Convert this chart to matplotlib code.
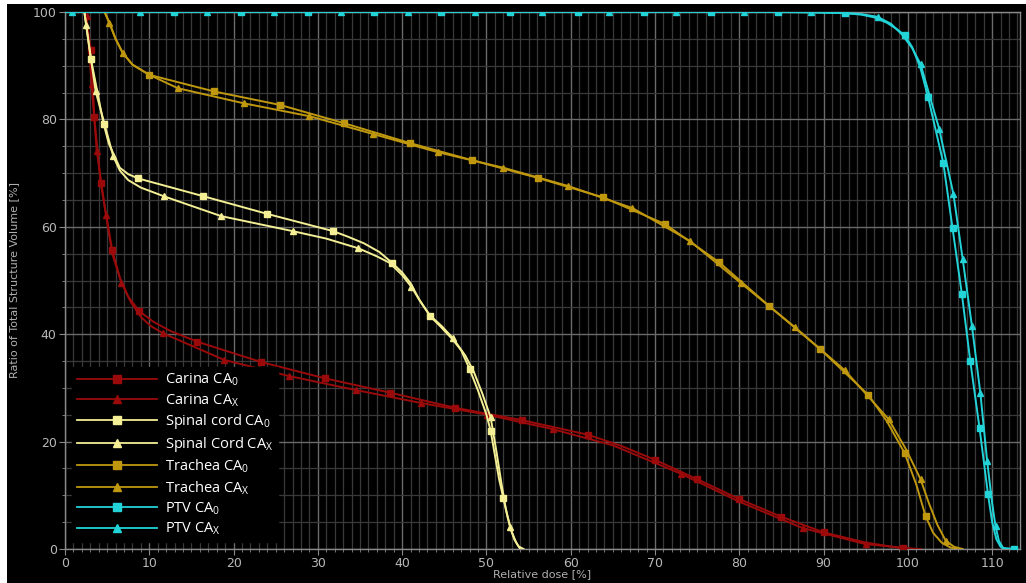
import matplotlib
matplotlib.use("Agg")
import matplotlib.pyplot as plt
from matplotlib.lines import Line2D
from matplotlib.patches import Rectangle
from matplotlib.ticker import MultipleLocator

# ---------------- data ----------------
carina0_dose = [2.4, 3.08, 3.48, 4.23, 5.6, 6.5, 7.5, 8.8, 10.5, 12.5, 15.7, 23.3, 30.8, 38.6, 46.3,
                54.2, 62.0, 66.0, 70.0, 75.0, 80.0, 85.0, 90.0, 95.0, 99.4, 101.5]
carina0_vol = [100.0, 92.9, 80.4, 68.1, 55.7, 50.5, 47.0, 44.3, 42.3, 40.6, 38.6, 34.8, 31.8, 29.1, 26.3,
               24.0, 21.3, 19.2, 16.6, 13.0, 9.3, 6.0, 3.1, 1.2, 0.1, 0.0]
carina0_marks = [1, 2, 3, 4, 7, 10, 11, 12, 13, 14, 15, 16, 18, 19, 20, 21, 22, 24]

carinax_dose = [2.3, 2.57, 3.16, 3.76, 4.86, 5.6, 6.7, 7.8, 9.0, 10.2, 11.6, 18.9, 26.6, 34.5, 42.2,
                50.1, 57.9, 65.0, 73.1, 80.0, 87.5, 95.0, 101.0]
carinax_vol = [100.0, 99.3, 86.5, 74.2, 62.2, 55.0, 49.6, 46.0, 43.2, 41.5, 40.2, 35.2, 32.2, 29.6, 27.2,
               25.0, 22.3, 19.3, 14.0, 8.8, 3.9, 0.9, 0.0]
carinax_marks = [1, 2, 3, 4, 6, 10, 11, 12, 13, 14, 15, 16, 18, 20, 21]

spinal0_dose = [2.3, 3.08, 4.59, 5.2, 6.5, 7.5, 8.7, 16.4, 24.0, 31.8, 33.5, 35.5, 37.3, 38.8, 40.0,
                41.0, 42.0, 43.3, 44.5, 46.0, 47.0, 48.0, 49.0, 50.0, 50.5, 51.0, 51.5, 52.0, 52.5,
                53.0, 53.5, 54.0]
spinal0_vol = [100.0, 91.2, 79.1, 75.5, 71.0, 69.8, 69.0, 65.7, 62.4, 59.2, 58.2, 56.9, 55.3, 53.3, 51.5,
               49.5, 46.5, 43.4, 41.5, 39.0, 37.0, 33.5, 29.5, 25.0, 22.0, 17.5, 13.0, 9.5, 6.0,
               3.2, 1.3, 0.0]
spinal0_marks = [1, 2, 6, 7, 8, 9, 13, 17, 21, 24, 27]

spinalx_dose = [2.3, 2.5, 3.64, 5.73, 6.5, 7.5, 9.0, 11.7, 18.5, 27.0, 31.0, 34.8, 37.0, 38.5, 40.0,
                41.1, 42.2, 43.3, 44.7, 46.0, 47.5, 48.5, 49.5, 50.5, 51.2, 51.8, 52.3, 52.8, 53.3,
                53.8, 54.4]
spinalx_vol = [100.0, 97.6, 85.2, 73.1, 70.5, 68.7, 67.3, 65.7, 62.0, 59.2, 57.8, 56.0, 54.5, 53.3, 51.0,
               48.8, 46.0, 43.5, 41.5, 39.3, 36.0, 33.0, 29.0, 24.5, 18.0, 12.0, 7.5, 4.1, 1.8,
               0.5, 0.0]
spinalx_marks = [1, 2, 3, 7, 8, 9, 11, 15, 19, 23, 27]

trachea0_dose = [4.7, 5.26, 6.0, 6.84, 8.0, 10.0, 17.7, 25.5, 33.1, 40.9, 48.3, 56.1, 63.8, 71.2, 77.6,
                 83.5, 89.6, 95.3, 97.5, 99.6, 101.0, 102.1, 103.0, 104.0, 105.0, 105.8]
trachea0_vol = [100.0, 98.0, 95.0, 92.4, 90.2, 88.3, 85.2, 82.7, 79.3, 75.6, 72.4, 69.1, 65.5, 60.5, 53.4,
                45.3, 37.2, 28.7, 23.8, 17.9, 12.0, 6.1, 3.0, 1.2, 0.3, 0.0]
trachea0_marks = [5, 6, 7, 8, 9, 10, 11, 12, 13, 14, 15, 16, 17, 19, 21]

tracheax_dose = [4.7, 5.26, 6.0, 6.84, 8.0, 10.0, 13.4, 21.2, 29.0, 36.5, 44.2, 52.0, 59.7, 67.3, 74.1,
                 80.2, 86.6, 92.5, 97.7, 99.8, 101.5, 102.5, 103.5, 104.5, 105.5, 106.5]
tracheax_vol = [100.0, 98.0, 95.0, 92.4, 90.2, 88.3, 85.8, 83.0, 80.6, 77.3, 73.9, 71.0, 67.6, 63.5, 57.4,
                49.5, 41.3, 33.3, 24.2, 18.5, 13.0, 8.5, 4.5, 1.5, 0.4, 0.0]
tracheax_marks = [1, 3, 6, 7, 8, 9, 10, 11, 12, 13, 14, 15, 16, 17, 18, 20, 23]

ptv0_dose = [0.0, 4.9, 12.9, 20.9, 28.8, 36.7, 44.6, 52.8, 60.9, 68.7, 76.6, 84.6, 92.5, 94.5, 96.0,
             97.5, 98.7, 99.6, 100.5, 101.5, 102.4, 104.2, 105.3, 106.4, 107.4, 108.5, 109.5,
             110.0, 110.5, 111.0, 111.5, 112.6]
ptv0_vol = [100.0, 100.0, 100.0, 100.0, 100.0, 100.0, 100.0, 100.0, 100.0, 100.0, 100.0, 100.0, 99.8,
            99.5, 99.0, 98.0, 96.8, 95.7, 93.5, 89.5, 84.1, 71.9, 59.7, 47.5, 35.0, 22.5, 10.2,
            5.0, 1.8, 0.4, 0.0, 0.0]
ptv0_marks = [2, 3, 4, 5, 6, 7, 8, 9, 10, 11, 12, 17, 20, 21, 22, 23, 24, 25, 26, 31]

ptvx_dose = [0.0, 0.8, 8.9, 16.8, 24.8, 32.7, 40.7, 48.6, 56.6, 64.5, 72.5, 80.5, 88.5, 92.5, 94.5,
             96.4, 98.0, 99.3, 100.5, 101.5, 103.7, 105.4, 106.5, 107.6, 108.6, 109.4, 110.0,
             110.4, 110.8, 111.3, 112.6]
ptvx_vol = [100.0, 100.0, 100.0, 100.0, 100.0, 100.0, 100.0, 100.0, 100.0, 100.0, 100.0, 100.0, 100.0,
            99.8, 99.6, 99.1, 97.8, 95.8, 93.3, 90.3, 78.3, 66.1, 54.0, 41.5, 29.0, 16.4, 8.5,
            4.2, 1.5, 0.2, 0.0]
ptvx_marks = [1, 2, 3, 4, 5, 6, 7, 8, 9, 10, 11, 12, 15, 19, 20, 21, 22, 23, 24, 25, 27]

labels = ["Carina CA$_\\mathregular{0}$", "Carina CA$_\\mathregular{X}$",
          "Spinal cord CA$_\\mathregular{0}$", "Spinal Cord CA$_\\mathregular{X}$",
          "Trachea CA$_\\mathregular{0}$", "Trachea CA$_\\mathregular{X}$",
          "PTV CA$_\\mathregular{0}$", "PTV CA$_\\mathregular{X}$"]

x_ticks = list(range(0, 111, 10))
y_ticks = list(range(0, 101, 20))

# ---------------- style ----------------
RED = "#9a0a0a"
YEL = "#f4ef95"
GOLD = "#bf980f"
CYAN = "#22d3d8"

series = [
    (carina0_dose, carina0_vol, carina0_marks, RED, "s"),
    (carinax_dose, carinax_vol, carinax_marks, RED, "^"),
    (spinal0_dose, spinal0_vol, spinal0_marks, YEL, "s"),
    (spinalx_dose, spinalx_vol, spinalx_marks, YEL, "^"),
    (trachea0_dose, trachea0_vol, trachea0_marks, GOLD, "s"),
    (tracheax_dose, tracheax_vol, tracheax_marks, GOLD, "^"),
    (ptv0_dose, ptv0_vol, ptv0_marks, CYAN, "s"),
    (ptvx_dose, ptvx_vol, ptvx_marks, CYAN, "^"),
]

plt.rcParams['font.family'] = ['Open Sans', 'DejaVu Sans']

fig = plt.figure(figsize=(10.26, 5.83), dpi=100, facecolor="black")
# white margins of the screenshot
fig.patches.append(Rectangle((0, 0), 7 / 1026, 1, transform=fig.transFigure,
                             facecolor="white", edgecolor="none", zorder=0))
fig.patches.append(Rectangle((0, 1 - 4 / 583), 1, 4 / 583, transform=fig.transFigure,
                             facecolor="white", edgecolor="none", zorder=0))

ax = fig.add_axes([65 / 1026, 34 / 583, (1020 - 65) / 1026, (549 - 12) / 583])
ax.set_facecolor("black")
ax.set_xlim(0, 113.3)
ax.set_ylim(0, 100)

ax.xaxis.set_minor_locator(MultipleLocator(1))
ax.yaxis.set_minor_locator(MultipleLocator(5))
ax.set_xticks(x_ticks)
ax.set_yticks(y_ticks)

ax.grid(which="minor", color="#3a3a3a", linewidth=0.9)
ax.grid(which="major", color="#6a6a6a", linewidth=1.0)
ax.set_axisbelow(True)

for s in ax.spines.values():
    s.set_color("#8a8a8a")
    s.set_linewidth(1.0)
ax.tick_params(which="major", colors="#b8b8b8", labelsize=9, length=4, pad=2, color="#8a8a8a")
ax.tick_params(which="minor", length=2.5, color="#8a8a8a")
for lab in ax.get_xticklabels() + ax.get_yticklabels():
    lab.set_family(['DejaVu Sans'])

ax.set_xlabel("Relative dose [%]", color="#b0b0b0", fontsize=8, labelpad=-1, family=['DejaVu Sans'])
ax.set_ylabel("Ratio of Total Structure Volume [%]", color="#b0b0b0", fontsize=8, labelpad=10,
              family=['DejaVu Sans'])

handles = []
for (xd, yd, mk, col, m), lab in zip(series, labels):
    ax.plot(xd, yd, color=col, linewidth=1.4, marker=m, markersize=4.5,
            markevery=mk, markerfacecolor=col, markeredgecolor=col, zorder=3)
    handles.append(Line2D([], [], color=col, linewidth=1.3, marker=m, markersize=6,
                          markerfacecolor=col, markeredgecolor=col, label=lab))

leg = ax.legend(handles=handles, loc="lower left", bbox_to_anchor=(0.0, 0.0),
                frameon=True, facecolor="black", edgecolor="black", framealpha=1.0,
                fontsize=10.5, handlelength=5.5, handletextpad=0.55, labelspacing=0.25,
                borderpad=0.35, borderaxespad=0.45, fancybox=False)
for t in leg.get_texts():
    t.set_color("white")
leg.set_zorder(5)

fig.savefig("out.png", dpi=100, facecolor=fig.get_facecolor())
